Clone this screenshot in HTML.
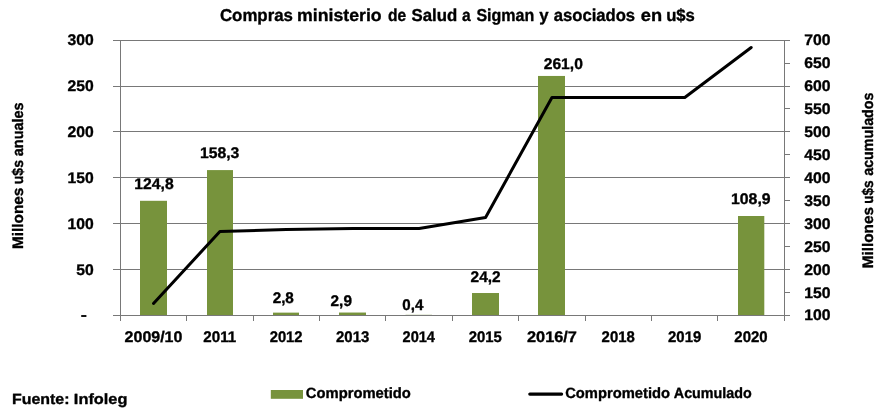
<!DOCTYPE html>
<html lang="es"><head><meta charset="utf-8"><title>Compras ministerio de Salud a Sigman y asociados en u$s</title>
<style>html,body{margin:0;padding:0;background:#fff}svg{display:block}text{font-family:"Liberation Sans",sans-serif;font-weight:bold;fill:#000;white-space:pre;text-rendering:geometricPrecision;stroke:#000;stroke-width:0.35px;stroke-linejoin:round}</style></head><body>
<svg width="888" height="411" viewBox="0 0 888 411">
<rect width="888" height="411" fill="#fff"/>
<g stroke="#787878" stroke-width="1" fill="none">
<line x1="120.5" y1="269.5" x2="784.5" y2="269.5"/>
<line x1="120.5" y1="223.5" x2="784.5" y2="223.5"/>
<line x1="120.5" y1="177.5" x2="784.5" y2="177.5"/>
<line x1="120.5" y1="131.5" x2="784.5" y2="131.5"/>
<line x1="120.5" y1="86.5" x2="784.5" y2="86.5"/>
<line x1="120.5" y1="40.5" x2="784.5" y2="40.5"/>
</g>
<g fill="#77933C">
<rect x="140" y="200.80" width="27.00" height="114.70"/>
<rect x="207" y="170.09" width="26.00" height="145.41"/>
<rect x="273" y="312.63" width="26.00" height="2.87"/>
<rect x="339" y="312.54" width="27.00" height="2.96"/>
<rect x="405.5" y="314.83" width="26.50" height="0.67"/>
<rect x="472" y="293.02" width="27.00" height="22.48"/>
<rect x="538" y="75.95" width="27.00" height="239.55"/>
<rect x="738" y="216.00" width="26.30" height="99.50"/>
</g>
<g stroke="#787878" stroke-width="1" fill="none">
<line x1="120.5" y1="40.0" x2="120.5" y2="316.0"/>
<line x1="784.5" y1="40.0" x2="784.5" y2="316.0"/>
<line x1="113.0" y1="315.5" x2="785.0" y2="315.5"/>
<line x1="113.0" y1="315.5" x2="120.5" y2="315.5"/>
<line x1="113.0" y1="269.5" x2="120.5" y2="269.5"/>
<line x1="113.0" y1="223.5" x2="120.5" y2="223.5"/>
<line x1="113.0" y1="177.5" x2="120.5" y2="177.5"/>
<line x1="113.0" y1="131.5" x2="120.5" y2="131.5"/>
<line x1="113.0" y1="86.5" x2="120.5" y2="86.5"/>
<line x1="113.0" y1="40.5" x2="120.5" y2="40.5"/>
<line x1="784.5" y1="315.5" x2="790.0" y2="315.5"/>
<line x1="784.5" y1="292.5" x2="790.0" y2="292.5"/>
<line x1="784.5" y1="269.5" x2="790.0" y2="269.5"/>
<line x1="784.5" y1="246.5" x2="790.0" y2="246.5"/>
<line x1="784.5" y1="223.5" x2="790.0" y2="223.5"/>
<line x1="784.5" y1="200.5" x2="790.0" y2="200.5"/>
<line x1="784.5" y1="177.5" x2="790.0" y2="177.5"/>
<line x1="784.5" y1="154.5" x2="790.0" y2="154.5"/>
<line x1="784.5" y1="131.5" x2="790.0" y2="131.5"/>
<line x1="784.5" y1="108.5" x2="790.0" y2="108.5"/>
<line x1="784.5" y1="86.5" x2="790.0" y2="86.5"/>
<line x1="784.5" y1="63.5" x2="790.0" y2="63.5"/>
<line x1="784.5" y1="40.5" x2="790.0" y2="40.5"/>
<line x1="120.5" y1="315.5" x2="120.5" y2="321.0"/>
<line x1="186.5" y1="315.5" x2="186.5" y2="321.0"/>
<line x1="253.5" y1="315.5" x2="253.5" y2="321.0"/>
<line x1="319.5" y1="315.5" x2="319.5" y2="321.0"/>
<line x1="385.5" y1="315.5" x2="385.5" y2="321.0"/>
<line x1="452.5" y1="315.5" x2="452.5" y2="321.0"/>
<line x1="518.5" y1="315.5" x2="518.5" y2="321.0"/>
<line x1="585.5" y1="315.5" x2="585.5" y2="321.0"/>
<line x1="651.5" y1="315.5" x2="651.5" y2="321.0"/>
<line x1="717.5" y1="315.5" x2="717.5" y2="321.0"/>
<line x1="784.5" y1="315.5" x2="784.5" y2="321.0"/>
</g>
<polyline points="153.50,303.5 219.91,231.5 286.32,229.5 352.74,228.5 419.14,228.5 485.56,217.5 551.96,97.5 618.38,97.5 684.78,97.5 751.19,47.5" fill="none" stroke="#000" stroke-width="3" stroke-linecap="round" stroke-linejoin="round"/>
<rect x="270.8" y="390" width="32.2" height="8.8" fill="#77933C"/>
<line x1="529.8" y1="394.1" x2="561.6" y2="394.1" stroke="#000" stroke-width="3.2" stroke-linecap="round"/>
<text y="21.45" font-size="17.2"><tspan x="219.95" textLength="73.00" lengthAdjust="spacingAndGlyphs">Compras</tspan> <tspan x="297.14" textLength="84.52" lengthAdjust="spacingAndGlyphs">ministerio</tspan> <tspan x="387.97" textLength="18.19" lengthAdjust="spacingAndGlyphs">de</tspan> <tspan x="411.48" textLength="45.72" lengthAdjust="spacingAndGlyphs">Salud</tspan> <tspan x="462.12" textLength="8.63" lengthAdjust="spacingAndGlyphs">a</tspan> <tspan x="476.43" textLength="57.90" lengthAdjust="spacingAndGlyphs">Sigman</tspan> <tspan x="539.15" textLength="9.35" lengthAdjust="spacingAndGlyphs">y</tspan> <tspan x="553.74" textLength="81.33" lengthAdjust="spacingAndGlyphs">asociados</tspan> <tspan x="640.76" textLength="21.32" lengthAdjust="spacingAndGlyphs">en</tspan> <tspan x="666.13" textLength="28.79" lengthAdjust="spacingAndGlyphs">u$s</tspan></text>
<text y="44.65" font-size="15.4"><tspan x="67.64" textLength="26.20" lengthAdjust="spacingAndGlyphs">300</tspan></text>
<text y="90.65" font-size="15.4"><tspan x="67.64" textLength="26.20" lengthAdjust="spacingAndGlyphs">250</tspan></text>
<text y="136.65" font-size="15.4"><tspan x="67.64" textLength="26.20" lengthAdjust="spacingAndGlyphs">200</tspan></text>
<text y="182.65" font-size="15.4"><tspan x="67.64" textLength="26.20" lengthAdjust="spacingAndGlyphs">150</tspan></text>
<text y="228.65" font-size="15.4"><tspan x="67.64" textLength="26.20" lengthAdjust="spacingAndGlyphs">100</tspan></text>
<text y="274.65" font-size="15.4"><tspan x="76.37" textLength="17.47" lengthAdjust="spacingAndGlyphs">50</tspan></text>
<text y="319.95" font-size="15.4"><tspan x="80.65" textLength="6.10" lengthAdjust="spacingAndGlyphs">-</tspan></text>
<text y="44.65" font-size="15.4"><tspan x="804.15" textLength="26.30" lengthAdjust="spacingAndGlyphs">700</tspan></text>
<text y="67.65" font-size="15.4"><tspan x="804.15" textLength="26.30" lengthAdjust="spacingAndGlyphs">650</tspan></text>
<text y="90.65" font-size="15.4"><tspan x="804.15" textLength="26.30" lengthAdjust="spacingAndGlyphs">600</tspan></text>
<text y="113.65" font-size="15.4"><tspan x="804.15" textLength="26.30" lengthAdjust="spacingAndGlyphs">550</tspan></text>
<text y="136.65" font-size="15.4"><tspan x="804.15" textLength="26.30" lengthAdjust="spacingAndGlyphs">500</tspan></text>
<text y="159.65" font-size="15.4"><tspan x="804.15" textLength="26.30" lengthAdjust="spacingAndGlyphs">450</tspan></text>
<text y="182.65" font-size="15.4"><tspan x="804.15" textLength="26.30" lengthAdjust="spacingAndGlyphs">400</tspan></text>
<text y="205.65" font-size="15.4"><tspan x="804.15" textLength="26.30" lengthAdjust="spacingAndGlyphs">350</tspan></text>
<text y="228.65" font-size="15.4"><tspan x="804.15" textLength="26.30" lengthAdjust="spacingAndGlyphs">300</tspan></text>
<text y="251.65" font-size="15.4"><tspan x="804.15" textLength="26.30" lengthAdjust="spacingAndGlyphs">250</tspan></text>
<text y="274.65" font-size="15.4"><tspan x="804.15" textLength="26.30" lengthAdjust="spacingAndGlyphs">200</tspan></text>
<text y="297.65" font-size="15.4"><tspan x="804.15" textLength="26.30" lengthAdjust="spacingAndGlyphs">150</tspan></text>
<text y="319.95" font-size="15.4"><tspan x="804.15" textLength="26.30" lengthAdjust="spacingAndGlyphs">100</tspan></text>
<text y="341.70" font-size="15.4"><tspan x="124.64" textLength="57.74" lengthAdjust="spacingAndGlyphs">2009/10</tspan></text>
<text y="341.70" font-size="15.4"><tspan x="203.33" textLength="32.84" lengthAdjust="spacingAndGlyphs">2011</tspan></text>
<text y="341.70" font-size="15.4"><tspan x="269.65" textLength="32.96" lengthAdjust="spacingAndGlyphs">2012</tspan></text>
<text y="341.70" font-size="15.4"><tspan x="336.04" textLength="33.24" lengthAdjust="spacingAndGlyphs">2013</tspan></text>
<text y="341.70" font-size="15.4"><tspan x="402.53" textLength="32.45" lengthAdjust="spacingAndGlyphs">2014</tspan></text>
<text y="341.70" font-size="15.4"><tspan x="468.74" textLength="33.17" lengthAdjust="spacingAndGlyphs">2015</tspan></text>
<text y="341.70" font-size="15.4"><tspan x="527.02" textLength="49.92" lengthAdjust="spacingAndGlyphs">2016/7</tspan></text>
<text y="341.70" font-size="15.4"><tspan x="601.60" textLength="33.18" lengthAdjust="spacingAndGlyphs">2018</tspan></text>
<text y="341.70" font-size="15.4"><tspan x="668.06" textLength="33.21" lengthAdjust="spacingAndGlyphs">2019</tspan></text>
<text y="341.70" font-size="15.4"><tspan x="734.37" textLength="33.29" lengthAdjust="spacingAndGlyphs">2020</tspan></text>
<text y="188.90" font-size="15.4"><tspan x="134.33" textLength="39.28" lengthAdjust="spacingAndGlyphs">124,8</tspan></text>
<text y="158.00" font-size="15.4"><tspan x="199.96" textLength="39.37" lengthAdjust="spacingAndGlyphs">158,3</tspan></text>
<text y="302.90" font-size="15.4"><tspan x="272.65" textLength="21.23" lengthAdjust="spacingAndGlyphs">2,8</tspan></text>
<text y="306.30" font-size="15.4"><tspan x="330.59" textLength="21.35" lengthAdjust="spacingAndGlyphs">2,9</tspan></text>
<text y="309.90" font-size="15.4"><tspan x="402.32" textLength="21.00" lengthAdjust="spacingAndGlyphs">0,4</tspan></text>
<text y="281.70" font-size="15.4"><tspan x="470.59" textLength="30.05" lengthAdjust="spacingAndGlyphs">24,2</tspan></text>
<text y="68.90" font-size="15.4"><tspan x="543.72" textLength="39.11" lengthAdjust="spacingAndGlyphs">261,0</tspan></text>
<text y="203.50" font-size="15.4"><tspan x="731.01" textLength="39.59" lengthAdjust="spacingAndGlyphs">108,9</tspan></text>
<text y="403.80" font-size="14.8"><tspan x="11.97" textLength="57.56" lengthAdjust="spacingAndGlyphs">Fuente:</tspan> <tspan x="73.88" textLength="53.50" lengthAdjust="spacingAndGlyphs">Infoleg</tspan></text>
<text y="398.40" font-size="14.8"><tspan x="305.81" textLength="105.10" lengthAdjust="spacingAndGlyphs">Comprometido</tspan></text>
<text y="398.30" font-size="14.8"><tspan x="565.21" textLength="104.81" lengthAdjust="spacingAndGlyphs">Comprometido</tspan> <tspan x="673.84" textLength="77.91" lengthAdjust="spacingAndGlyphs">Acumulado</tspan></text>
<text transform="translate(23.20,0) rotate(-90)" y="0" font-size="15.2"><tspan x="-249.07" textLength="61.47" lengthAdjust="spacingAndGlyphs">Millones</tspan> <tspan x="-184.18" textLength="24.10" lengthAdjust="spacingAndGlyphs">u$s</tspan> <tspan x="-156.17" textLength="53.61" lengthAdjust="spacingAndGlyphs">anuales</tspan></text>
<text transform="translate(873.10,0) rotate(-90)" y="0" font-size="15.2"><tspan x="-268.28" textLength="61.20" lengthAdjust="spacingAndGlyphs">Millones</tspan> <tspan x="-203.86" textLength="23.38" lengthAdjust="spacingAndGlyphs">u$s</tspan> <tspan x="-175.78" textLength="83.19" lengthAdjust="spacingAndGlyphs">acumulados</tspan></text>
</svg></body></html>
